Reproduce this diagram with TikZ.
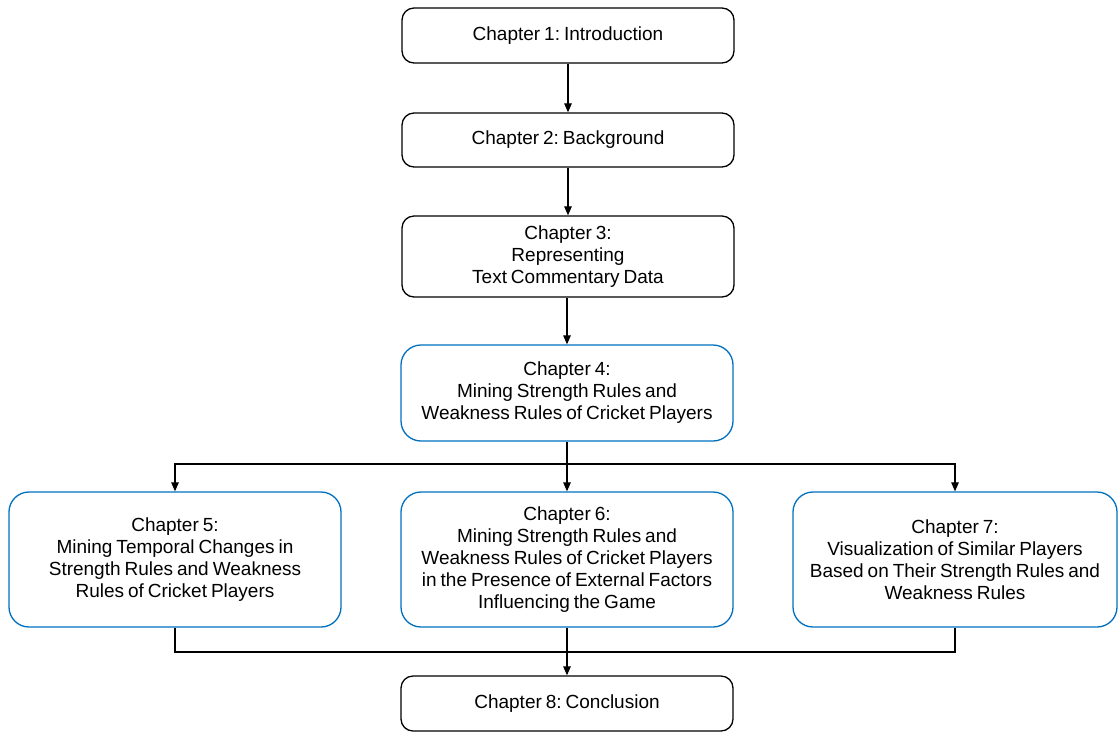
\documentclass[tikz,border=0pt]{standalone}
\usepackage{fontspec}
\setmainfont[WordSpace=0.75]{Liberation Sans}
\usetikzlibrary{arrows.meta,positioning}
\definecolor{boxblue}{RGB}{0,112,192}
\begin{document}
\begin{tikzpicture}[x=1pt,y=-1pt,
  chap/.style={draw=black, line width=1.3pt, rounded corners=12pt, align=center,
    font=\fontsize{19}{22}\selectfont\frenchspacing, inner sep=0pt, minimum width=332pt},
  bluechap/.style={chap, draw=boxblue, rounded corners=20pt},
  conn/.style={line width=1.2pt, -{Triangle[length=9pt,width=7.5pt]}},
  plain/.style={line width=1.2pt}]
\useasboundingbox (0,0) rectangle (1118,732);
\node[chap, minimum height=55pt] (b1) at (568,35.5) {Chapter 1: Introduction};
\node[chap, minimum height=54pt] (b2) at (568,140) {Chapter 2: Background};
\node[chap, minimum height=81pt] (b3) at (568,256.5) {Chapter 3:\\Representing\\Text Commentary Data};
\node[bluechap, minimum height=96pt] (b4) at (567,393) {Chapter 4:\\Mining Strength Rules and\\Weakness Rules of Cricket Players};
\node[bluechap, minimum height=135pt] (b5) at (175,559.5) {Chapter 5:\\Mining Temporal Changes in\\Strength Rules and Weakness\\Rules of Cricket Players};
\node[bluechap, minimum height=135pt] (b6) at (567,559.5) {Chapter 6:\\Mining Strength Rules and\\Weakness Rules of Cricket Players\\in the Presence of External Factors\\Influencing the Game};
\node[bluechap, minimum height=135pt, minimum width=324pt] (b7) at (955,559.5) {Chapter 7:\\Visualization of Similar Players\\Based on Their Strength Rules and\\Weakness Rules};
\node[chap, minimum height=55pt] (b8) at (567,703.5) {Chapter 8: Conclusion};
\draw[conn] (b1.south) -- (b2.north);
\draw[conn] (b2.south) -- (b3.north);
\draw[conn] (b3.south -| b4.south) -- (b4.north);
\coordinate (split) at (567,464);
\coordinate (join) at (567,652);
\draw[plain] (b4.south) -- (split);
\draw[conn] (split) -- (b6.north);
\draw[conn] (split) -| (b5.north);
\draw[conn] (split) -| (b7.north);
\draw[plain] (b5.south) |- (join) -| (b7.south);
\draw[conn] (b6.south) -- (b8.north);
\end{tikzpicture}
\end{document}
